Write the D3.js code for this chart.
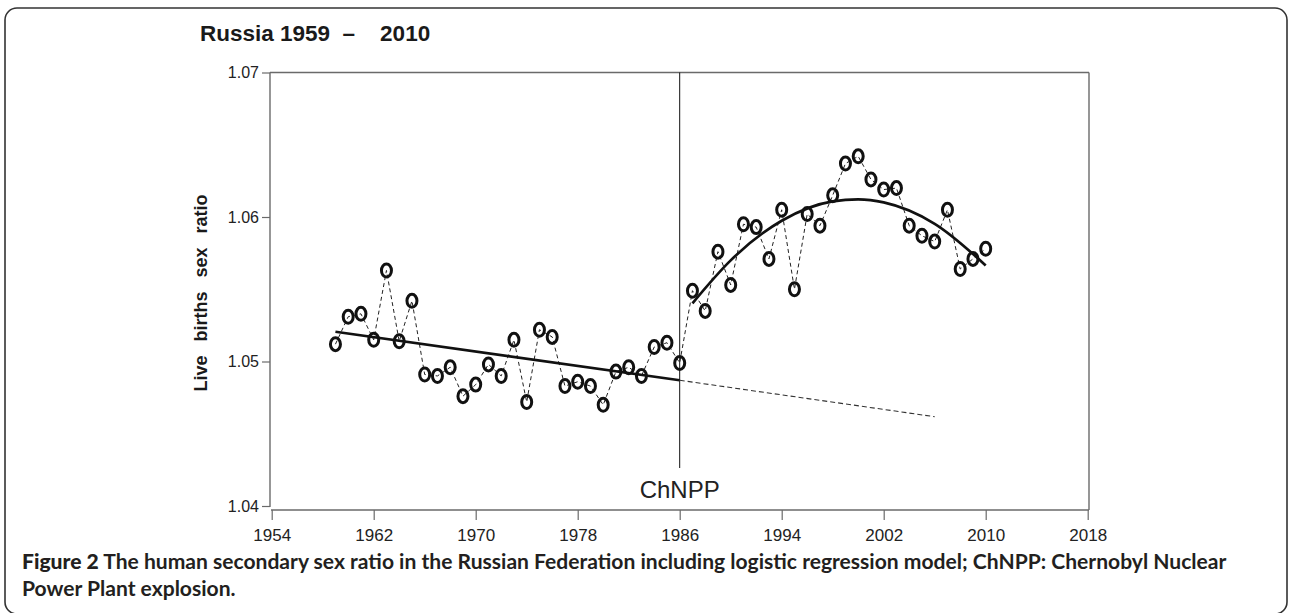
<!DOCTYPE html>
<html>
<head>
<meta charset="utf-8">
<script src="https://cdn.jsdelivr.net/npm/d3@7"></script>
<style>
  html, body { margin: 0; padding: 0; background: #fff; }
  svg { display: block; }
</style>
</head>
<body>
<svg id="chart" width="1289" height="613"></svg>
<script>
// ---------------- data ----------------
const years = [1959,1960,1961,1962,1963,1964,1965,1966,1967,1968,1969,1970,1971,1972,1973,1974,1975,1976,1977,1978,1979,1980,1981,1982,1983,1984,1985,1986,1987,1988,1989,1990,1991,1992,1993,1994,1995,1996,1997,1998,1999,2000,2001,2002,2003,2004,2005,2006,2007,2008,2009,2010];
const sexRatio = [1.0512,1.0531,1.0533,1.0515,1.0563,1.0514,1.0542,1.0491,1.0490,1.0496,1.0476,1.0484,1.0498,1.0490,1.0515,1.0472,1.0522,1.0517,1.0483,1.0486,1.0483,1.0470,1.0493,1.0496,1.0490,1.0510,1.0513,1.0499,1.0549,1.0535,1.0576,1.0553,1.0595,1.0593,1.0571,1.0605,1.0550,1.0602,1.0594,1.0615,1.0637,1.0642,1.0626,1.0619,1.0620,1.0594,1.0587,1.0583,1.0605,1.0564,1.0571,1.0578];

// fitted model
const preTrendYears = [1959, 1986];
const preTrendValues = [1.05206, 1.04870];
const extTrendYears = [1986, 2006];
const extTrendValues = [1.04870, 1.04618];
const postTrendYears = [1987, 1990, 1994, 1998, 2000, 2002, 2006, 2010];
const postTrendValues = [1.05403, 1.05700, 1.05974, 1.06108, 1.06122, 1.06101, 1.05953, 1.05665];

const xTicks = [1954, 1962, 1970, 1978, 1986, 1994, 2002, 2010, 2018];
const yTicks = [1.04, 1.05, 1.06, 1.07];
const eventYear = 1986;
const eventLabel = "ChNPP";
const titleText = "Russia 1959  \u2013    2010";
const yLabel = "Live births sex ratio";
const captionBold = "Figure 2";
const captionLine1 = " The human secondary sex ratio in the Russian Federation including logistic regression model; ChNPP: Chernobyl Nuclear";
const captionLine2 = "Power Plant explosion.";

// ---------------- layout ----------------
const svg = d3.select("#chart");
const pLeft = 270, pRight = 1089, pTop = 72.5, pBottom = 506, xAxisY = 510;

const x = d3.scaleLinear().domain([1954, 2018]).range([271.7, 1087.7]);
const y = d3.scaleLinear().domain([1.04, 1.07]).range([pBottom, pTop]);

const frameColor = "#6a6a6a";
const tickFont = "'Liberation Sans Narrow','Arial Narrow','Liberation Sans',Arial,sans-serif";

// outer rounded border
svg.append("rect")
  .attr("x", 5).attr("y", 8).attr("width", 1282).attr("height", 606)
  .attr("rx", 12).attr("ry", 12)
  .attr("fill", "none").attr("stroke", "#333").attr("stroke-width", 1.6);

// title
svg.append("text")
  .attr("x", 200).attr("y", 41)
  .attr("font-family", "'Liberation Sans',Arial,sans-serif")
  .attr("font-weight", "bold").attr("font-size", 22.5)
  .attr("fill", "#1a1a1a")
  .style("white-space", "pre")
  .text(titleText);

// frame
const frame = svg.append("g").attr("stroke", frameColor).attr("stroke-width", 1.4).attr("fill", "none");
frame.append("line").attr("x1", pLeft).attr("x2", pLeft).attr("y1", pTop).attr("y2", pBottom + 1);
frame.append("line").attr("x1", pLeft).attr("x2", pRight).attr("y1", pTop).attr("y2", pTop);
frame.append("line").attr("x1", pRight).attr("x2", pRight).attr("y1", pTop).attr("y2", xAxisY);
frame.append("line").attr("x1", pLeft + 1).attr("x2", pRight).attr("y1", xAxisY).attr("y2", xAxisY);

// y axis
const yAxis = d3.axisLeft(y).tickValues(yTicks).tickSize(8).tickPadding(3)
  .tickFormat(d3.format(".2f"));
const gy = svg.append("g").attr("transform", `translate(${pLeft},0)`).call(yAxis);
gy.select(".domain").remove();
gy.selectAll(".tick line").attr("stroke", frameColor).attr("stroke-width", 1.2);
gy.selectAll(".tick text").attr("font-family", tickFont).attr("font-size", 16).attr("fill", "#222");

// x axis
const xAxis = d3.axisBottom(x).tickValues(xTicks).tickSize(10).tickPadding(9)
  .tickFormat(d3.format("d"));
const gx = svg.append("g").attr("transform", `translate(0,${xAxisY})`).call(xAxis);
gx.select(".domain").remove();
gx.selectAll(".tick line").attr("stroke", frameColor).attr("stroke-width", 1.2);
gx.selectAll(".tick text").attr("font-family", tickFont).attr("font-size", 17).attr("fill", "#222");

// y label
svg.append("text")
  .attr("transform", "translate(207,293) rotate(-90)")
  .attr("text-anchor", "middle")
  .attr("font-family", "'Liberation Sans',Arial,sans-serif")
  .attr("font-weight", "bold").attr("font-size", 18)
  .attr("word-spacing", 9)
  .attr("fill", "#1a1a1a")
  .text(yLabel);

// event line
svg.append("line")
  .attr("x1", x(eventYear)).attr("x2", x(eventYear))
  .attr("y1", pTop).attr("y2", 468)
  .attr("stroke", "#111").attr("stroke-width", 1);
svg.append("text")
  .attr("x", x(eventYear)).attr("y", 498)
  .attr("text-anchor", "middle")
  .attr("font-family", tickFont).attr("font-size", 24)
  .attr("fill", "#222")
  .text(eventLabel);

// data line (dashed)
const pts = years.map((yr, i) => [yr, sexRatio[i]]);
const lineGen = d3.line().x(d => x(d[0])).y(d => y(d[1]));
svg.append("path")
  .datum(pts)
  .attr("d", lineGen)
  .attr("fill", "none").attr("stroke", "#222")
  .attr("stroke-width", 1).attr("stroke-dasharray", "4,3");

// trend lines
svg.append("path")
  .datum(preTrendYears.map((yr, i) => [yr, preTrendValues[i]]))
  .attr("d", lineGen)
  .attr("fill", "none").attr("stroke", "#111").attr("stroke-width", 2.7);
svg.append("path")
  .datum(extTrendYears.map((yr, i) => [yr, extTrendValues[i]]))
  .attr("d", lineGen)
  .attr("fill", "none").attr("stroke", "#333").attr("stroke-width", 1.1)
  .attr("stroke-dasharray", "5,3");
const curveGen = d3.line().x(d => x(d[0])).y(d => y(d[1])).curve(d3.curveMonotoneX);
svg.append("path")
  .datum(postTrendYears.map((yr, i) => [yr, postTrendValues[i]]))
  .attr("d", curveGen)
  .attr("fill", "none").attr("stroke", "#111").attr("stroke-width", 2.7);

// markers
svg.append("g").selectAll("ellipse")
  .data(pts)
  .join("ellipse")
  .attr("cx", d => x(d[0])).attr("cy", d => y(d[1]))
  .attr("rx", 5).attr("ry", 6.5)
  .attr("fill", "none").attr("stroke", "#111").attr("stroke-width", 3);

// caption: two lines, sized to the measured width of line 1
const capFont = "Lato,'Open Sans',Arial,sans-serif";
function capLine(yPos) {
  return svg.append("text")
    .attr("x", 22).attr("y", yPos)
    .attr("font-family", capFont).attr("font-size", 18)
    .attr("fill", "#231f20")
    .style("white-space", "pre");
}
const cap1 = capLine(569);
cap1.append("tspan").attr("font-weight", 900).text(captionBold);
cap1.append("tspan").attr("font-weight", 700).text(captionLine1);
const w1 = cap1.node().getComputedTextLength();
const capSize = 18 * 1205 / w1;
cap1.attr("font-size", capSize);
const cap2 = capLine(569 + Math.ceil(capSize * 1.21) + 1);
cap2.attr("font-size", capSize).attr("font-weight", 700).text(captionLine2);
</script>
</body>
</html>
